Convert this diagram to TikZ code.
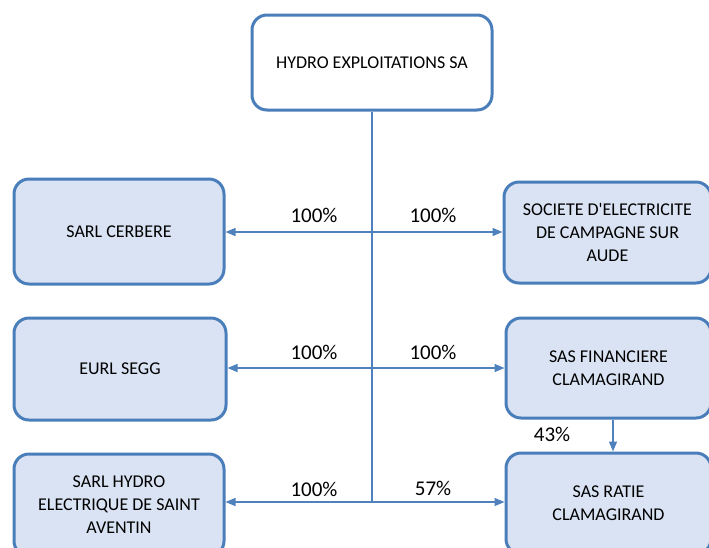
\documentclass[tikz,border=0pt]{standalone}
\usepackage{fontspec}
\setmainfont{Carlito}
\usetikzlibrary{arrows.meta}
\definecolor{bordblue}{HTML}{4A7EBB}
\definecolor{lineblue}{HTML}{4F81BD}
\definecolor{boxfill}{HTML}{DAE3F3}
\tikzset{
  orgbox/.style={draw=bordblue, line width=3pt, rounded corners=15pt, fill=boxfill,
    align=center, font=\fontsize{18}{23}\selectfont, inner sep=0pt},
  topbox/.style={orgbox, fill=white},
  link/.style={draw=lineblue, line width=1.4pt, -{Triangle[length=10pt,width=8pt]}},
  trunk/.style={draw=lineblue, line width=1.4pt},
  pct/.style={font=\fontsize{21}{24}\selectfont, inner sep=0pt, text depth=0pt}
}
\begin{document}
\begin{tikzpicture}[x=1pt,y=-1pt]
\useasboundingbox (0,0) rectangle (709,547);
\clip (0,0) rectangle (709,547);
\fill[white] (0,0) rectangle (709,547);
\node[topbox, minimum width=240pt, minimum height=95pt] (top) at (372,62.5) {HYDRO EXPLOITATIONS SA};
\node[orgbox, minimum width=210pt, minimum height=105pt] (cerbere) at (119,231.5) {SARL CERBERE};
\node[orgbox, minimum width=207pt, minimum height=101pt] (societe) at (607.5,232.5) {SOCIETE D\textquotesingle ELECTRICITE\\DE CAMPAGNE SUR\\AUDE};
\node[orgbox, minimum width=212pt, minimum height=102pt] (segg) at (120,369) {EURL SEGG};
\node[orgbox, minimum width=205pt, minimum height=100pt] (financiere) at (608.5,368) {SAS FINANCIERE\\CLAMAGIRAND};
\node[orgbox, minimum width=210pt, minimum height=102pt] (hydro) at (119,505) {SARL HYDRO\\ELECTRIQUE DE SAINT\\AVENTIN};
\node[orgbox, minimum width=205pt, minimum height=101pt] (ratie) at (608.5,503.5) {SAS RATIE\\CLAMAGIRAND};

\coordinate (j1) at (372,232);
\coordinate (j2) at (372,368);
\coordinate (j3) at (372,502);
\draw[trunk] (top.south) -- (j3);
\draw[link] (j1) -- (j1 -| cerbere.east);
\draw[link] (j1) -- (j1 -| societe.west);
\draw[link] (j2) -- (j2 -| segg.east);
\draw[link] (j2) -- (j2 -| financiere.west);
\draw[link] (j3) -- (j3 -| hydro.east);
\draw[link] (j3) -- (j3 -| ratie.west);
\coordinate (f43) at (613,418);
\draw[link] (f43 |- financiere.south) -- (f43 |- ratie.north);

\node[pct] (l1) at (314,215) {100\%};
\node[pct] (r1) at (433,215) {100\%};
\node[pct] (l2) at (314,352) {100\%};
\node[pct] (r2) at (433,352) {100\%};
\node[pct] (l3) at (314,489) {100\%};
\node[pct] (r3) at (433,488.5) {57\%};
\node[pct] (p43) at (552,434) {43\%};
\end{tikzpicture}
\end{document}
